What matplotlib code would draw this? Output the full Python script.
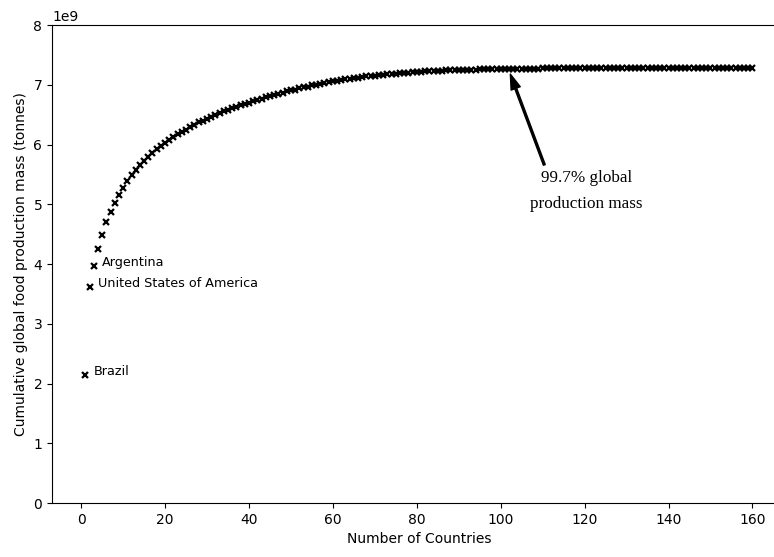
import numpy as np
import matplotlib
matplotlib.use('Agg')
import matplotlib.pyplot as plt

# cumulative global food production mass (tonnes, x1e9), countries sorted by output
cum_mass = [2.15, 3.61, 3.96, 4.25, 4.48, 4.70, 4.88, 5.02, 5.15, 5.28,
            5.39, 5.49, 5.58, 5.66, 5.73, 5.80, 5.86, 5.92, 5.98, 6.03,
            6.08, 6.12, 6.17, 6.21, 6.25, 6.29, 6.33, 6.37, 6.40, 6.43,
            6.47, 6.50, 6.53, 6.56, 6.58, 6.61, 6.63, 6.66, 6.68, 6.70,
            6.73, 6.75, 6.77, 6.79, 6.81, 6.83, 6.85, 6.87, 6.89, 6.91,
            6.92, 6.94, 6.96, 6.97, 6.99, 7.00, 7.02, 7.03, 7.04, 7.06,
            7.07, 7.08, 7.09, 7.10, 7.11, 7.12, 7.13, 7.14, 7.15, 7.155,
            7.16, 7.17, 7.175, 7.18, 7.19, 7.195, 7.20, 7.205, 7.21, 7.215,
            7.22, 7.225, 7.23, 7.233, 7.236, 7.239, 7.242, 7.245, 7.247, 7.249,
            7.251, 7.253, 7.255, 7.257, 7.259, 7.261, 7.263, 7.264, 7.265, 7.266,
            7.267, 7.268, 7.269, 7.270, 7.271, 7.272, 7.272, 7.273, 7.273, 7.274,
            7.274, 7.275, 7.275, 7.275, 7.276, 7.276, 7.276, 7.277, 7.277, 7.277,
            7.277, 7.278, 7.278, 7.278, 7.278, 7.278, 7.279, 7.279, 7.279, 7.279,
            7.279, 7.279, 7.279, 7.280, 7.280, 7.280, 7.280, 7.280, 7.280, 7.280,
            7.280, 7.280, 7.280, 7.280, 7.280, 7.280, 7.280, 7.280, 7.280, 7.280,
            7.280, 7.280, 7.280, 7.280, 7.280, 7.280, 7.280, 7.280, 7.280, 7.280]
n_countries = list(range(1, len(cum_mass) + 1))

top_names = ['Brazil', 'United States of America', 'Argentina']

x = np.array(n_countries)
y = np.array(cum_mass) * 1e9

fig = plt.figure(figsize=(7.74, 5.57), dpi=100)
ax = fig.add_axes([0.0672, 0.0969, 0.948, 0.858])

ax.plot(x, y, 'x', color='black', markersize=4.0, markeredgewidth=1.6)

for i, name in enumerate(top_names):
    ax.annotate(name, (x[i] + 1.9, y[i]), fontsize=9.2, ha='left', va='baseline')

ax.annotate('', xy=(102.3, 7.18e9), xytext=(110.4, 5.66e9),
            arrowprops=dict(facecolor='black', width=1.4, headwidth=7,
                            headlength=11, shrink=0))
ax.text(120.4, 5.38e9, '99.7% global', family='Liberation Serif',
        fontsize=12.3, ha='center', va='baseline')
ax.text(120.4, 4.94e9, 'production mass', family='Liberation Serif',
        fontsize=12.3, ha='center', va='baseline')

ax.set_ylim(0, 8e9)
ax.set_xticks(np.arange(0, 161, 20))
ax.set_xlabel('Number of Countries')
ax.set_ylabel('Cumulative global food production mass (tonnes)')

fig.savefig('out.png', dpi=100)
